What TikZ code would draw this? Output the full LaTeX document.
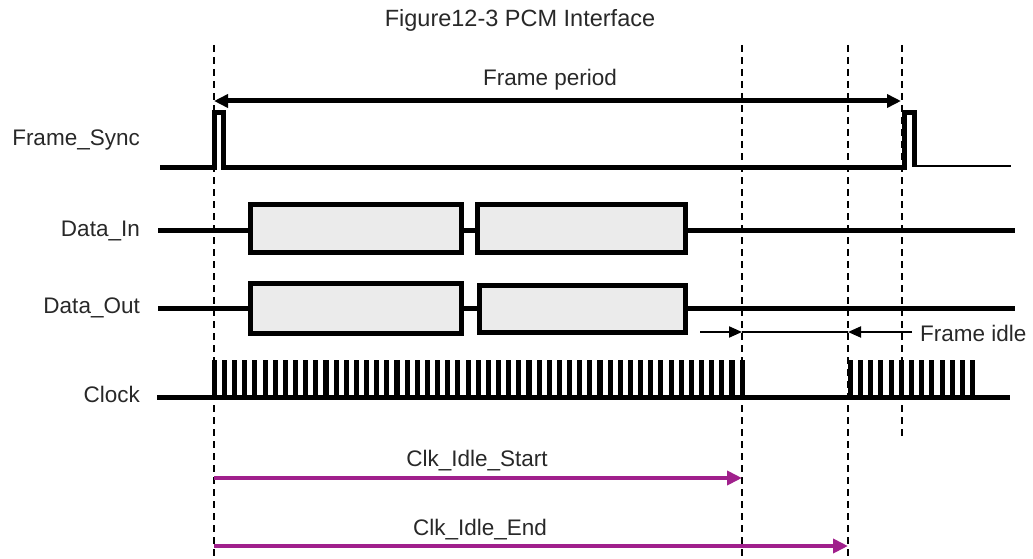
\documentclass[tikz,border=0pt]{standalone}
\usepackage{fontspec}
\setmainfont{Liberation Sans}
\usetikzlibrary{arrows.meta}
\definecolor{mag}{RGB}{160,32,140}
\definecolor{boxgray}{RGB}{235,235,235}
\definecolor{txt}{RGB}{40,40,40}
\begin{document}
\begin{tikzpicture}[x=1pt,y=-1pt,
  sig/.style={line width=5pt, line join=miter},
  guide/.style={line width=1.5pt, dash pattern=on 7pt off 5pt},
  lbl/.style={font=\fontsize{22.5}{26}\selectfont, text=txt, inner sep=0pt},
  databox/.style={draw, line width=5pt, fill=boxgray},
  magarrow/.style={line width=4.7pt, draw=mag, -{Triangle[length=15pt,width=14pt,fill=mag]}},
  blkarrow/.style={line width=5pt, {Triangle[length=14pt,width=13pt]}-{Triangle[length=14pt,width=13pt]}},
  thinarrow/.style={line width=2pt, -{Triangle[length=13pt,width=11pt]}}
]
\useasboundingbox (0,0) rectangle (1033,559);

% guide coordinates
\coordinate (g1t) at (214,45);  \coordinate (g1b) at (214,559);
\coordinate (g2t) at (742,45);  \coordinate (g2b) at (742,559);
\coordinate (g3t) at (848,45);  \coordinate (g3b) at (848,559);
\coordinate (g4t) at (902,45);  \coordinate (g4b) at (902,437);
\draw[guide] (g1t) -- (g1b);
\draw[guide] (g2t) -- (g2b);
\draw[guide] (g3t) -- (g3b);
\draw[guide] (g4t) -- (g4b);

% title
\node[lbl, font=\fontsize{23.5}{27}\selectfont] (title) at (520,20) {Figure12-3 PCM Interface};

% signal labels
\node[lbl, anchor=east] (lfs) at (140,140) {Frame\_Sync};
\node[lbl, anchor=east] (ldi) at (140,231) {Data\_In};
\node[lbl, anchor=east] (ldo) at (140,308) {Data\_Out};
\node[lbl, anchor=east] (lck) at (140,394) {Clock};

% frame period
\coordinate (fpL) at (214,101);
\coordinate (fpR) at (901,101);
\draw[blkarrow] (fpL) -- (fpR);
\node[lbl] (fp) at (550,80) {Frame period};

% Frame_Sync
\draw[sig] (160,167) -- (214.5,167) -- (214.5,112.5) -- (223.5,112.5) -- (223.5,167)
  -- (904,167) -- (904,112.5) -- (914,112.5) -- (914,167);
\draw[line width=2pt] (914,166) -- (1011,166);

% Data_In
\draw[sig] (158,230) -- (250,230);
\draw[databox] (250,204) rectangle (461,252);
\draw[sig] (461,230) -- (477,230);
\draw[databox] (477,204) rectangle (685,252);
\draw[sig] (685,230) -- (1015,230);

% Data_Out
\draw[sig] (158,308) -- (250,308);
\draw[databox] (250,283) rectangle (461,333);
\draw[sig] (461,308) -- (479,308);
\draw[databox] (479,285) rectangle (685,332);
\draw[sig] (685,308) -- (1015,308);

% Frame idle
\coordinate (fiA) at (700,332);
\coordinate (fiB) at (742,332);
\coordinate (fiC) at (848,332);
\coordinate (fiD) at (912,332);
\draw[thinarrow] (fiA) -- (fiB);
\draw[line width=2pt] (fiB) -- (fiC);
\draw[thinarrow] (fiD) -- (fiC);
\node[lbl, anchor=west] (fi) at (920,333) {Frame idle};

% Clock
\draw[line width=5pt] (157,397) -- (1010,397);
\draw[line width=4.5pt, line join=miter]
  foreach \k in {0,...,52} { ({214+\k*10.15},397) -- ++(0,-35) -- ++(0.6,0) -- ++(0,35) }
  foreach \k in {0,...,12} { ({850+\k*10.2},397) -- ++(0,-35) -- ++(0.6,0) -- ++(0,35) };

% Clk idle arrows
\coordinate (csA) at (214,478);
\coordinate (csB) at (742,478);
\coordinate (ceA) at (214,546);
\coordinate (ceB) at (848,546);
\draw[magarrow] (csA) -- (csB);
\draw[magarrow] (ceA) -- (ceB);
\node[lbl] (cs) at (477,461) {Clk\_Idle\_Start};
\node[lbl] (ce) at (480,530) {Clk\_Idle\_End};
\end{tikzpicture}
\end{document}
